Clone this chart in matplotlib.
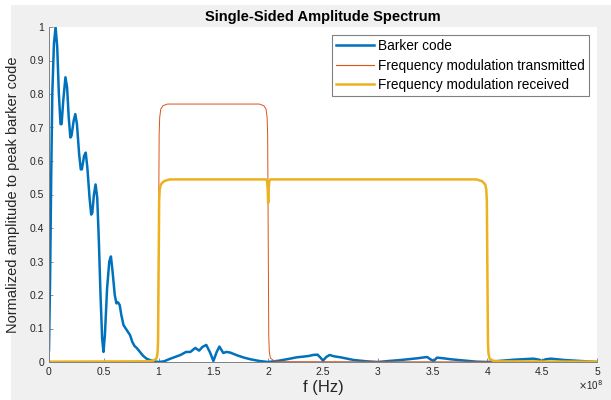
import numpy as np
import matplotlib.pyplot as plt
from matplotlib.patches import Rectangle

plt.rcParams['font.family'] = ['Liberation Sans', 'DejaVu Sans']

# frequency in units of 1e8 Hz
barker_f = [0.0, 0.01, 0.02, 0.03, 0.045, 0.06, 0.075, 0.09, 0.105, 0.115, 0.13, 0.15, 0.165, 0.18,
            0.195, 0.205, 0.225, 0.24, 0.255, 0.275, 0.29, 0.30, 0.32, 0.335, 0.35, 0.37, 0.385,
            0.395, 0.41, 0.425, 0.44, 0.455, 0.47, 0.485, 0.497, 0.51, 0.53, 0.55, 0.565, 0.58,
            0.60, 0.615, 0.63, 0.645, 0.66, 0.68, 0.70, 0.72, 0.74, 0.76, 0.78, 0.80, 0.83, 0.86,
            0.89, 0.92, 0.96, 1.0, 1.05, 1.1, 1.15, 1.2, 1.25, 1.29, 1.335, 1.37, 1.40, 1.435,
            1.47, 1.50, 1.53, 1.555, 1.59, 1.62, 1.655, 1.715, 1.78, 1.84, 1.92, 2.0, 2.1, 2.2,
            2.26, 2.32, 2.37, 2.41, 2.45, 2.48, 2.50, 2.53, 2.56, 2.6, 2.66, 2.78, 2.9, 3.0, 3.1,
            3.21, 3.36, 3.45, 3.48, 3.51, 3.54, 3.6, 3.67, 3.8, 3.9, 4.0, 4.1, 4.25, 4.42, 4.47,
            4.5, 4.53, 4.58, 4.7, 4.85, 5.0]
barker_v = [0.035, 0.25, 0.55, 0.80, 0.95, 1.0, 0.94, 0.80, 0.71, 0.71, 0.78, 0.85, 0.82, 0.73,
            0.67, 0.675, 0.72, 0.74, 0.71, 0.62, 0.575, 0.575, 0.615, 0.625, 0.58, 0.49, 0.44,
            0.445, 0.50, 0.53, 0.49, 0.36, 0.20, 0.07, 0.03, 0.08, 0.22, 0.30, 0.315, 0.27,
            0.20, 0.175, 0.178, 0.17, 0.14, 0.11, 0.10, 0.09, 0.08, 0.06, 0.048, 0.042, 0.03, 0.018,
            0.01, 0.006, 0.002, 0.0, 0.002, 0.009, 0.015, 0.021, 0.03, 0.03, 0.042, 0.034, 0.045, 0.051,
            0.028, 0.003, 0.03, 0.046, 0.027, 0.03, 0.028, 0.02, 0.013, 0.008, 0.003, 0.0, 0.004, 0.01,
            0.014, 0.016, 0.018, 0.021, 0.022, 0.012, 0.004, 0.015, 0.021, 0.017, 0.014, 0.006, 0.002, 0.0, 0.003,
            0.006, 0.011, 0.015, 0.008, 0.003, 0.013, 0.011, 0.008, 0.004, 0.001, 0.0, 0.003, 0.007, 0.01, 0.007,
            0.003, 0.008, 0.01, 0.006, 0.003, 0.0]

tx_f = [0.0, 0.95, 0.98, 0.99, 0.995, 1.0, 1.005, 1.01, 1.02, 1.04, 1.08, 1.92, 1.96, 1.98, 1.99,
        1.995, 2.0, 2.005, 2.01, 2.02, 2.05, 2.1, 5.0]
tx_v = [0.0, 0.002, 0.01, 0.03, 0.08, 0.38, 0.68, 0.73, 0.755, 0.765, 0.77, 0.77, 0.765, 0.755, 0.73,
        0.68, 0.38, 0.08, 0.03, 0.012, 0.004, 0.001, 0.0]

rx_f = [0.0, 0.9, 0.95, 0.98, 0.99, 0.995, 1.0, 1.005, 1.01, 1.02, 1.05, 1.1, 1.98, 1.99, 1.995,
        2.0, 2.005, 2.01, 2.02, 3.9, 3.95, 3.98, 3.99, 3.995, 4.0, 4.005, 4.01, 4.02, 4.05, 4.1, 5.0]
rx_v = [0.001, 0.002, 0.004, 0.01, 0.025, 0.06, 0.27, 0.48, 0.515, 0.53, 0.54, 0.545, 0.545, 0.54, 0.52,
        0.475, 0.52, 0.54, 0.545, 0.545, 0.54, 0.53, 0.515, 0.48, 0.27, 0.06, 0.025, 0.01, 0.004, 0.002, 0.001]

fig = plt.figure(figsize=(6.11, 4.0), dpi=100)
fig.patch.set_facecolor('white')
fig.patches.append(Rectangle((11 / 611, 0), 1, 1 - 5 / 400, transform=fig.transFigure,
                             facecolor='#f0f0f0', edgecolor='none', zorder=-10))

ax = fig.add_axes([49 / 611, 1 - 362 / 400, 548 / 611, 335 / 400])
ax.plot(np.array(barker_f) * 1e8, barker_v, color='#0072BD', lw=1.8, label='Barker code')
ax.plot(np.array(tx_f) * 1e8, tx_v, color='#D95319', lw=0.7, label='Frequency modulation transmitted')
ax.plot(np.array(rx_f) * 1e8, rx_v, color='#EDB120', lw=1.8, label='Frequency modulation received')

ax.set_xlim(0, 5e8)
ax.set_ylim(0, 1)
ax.set_xticks(np.arange(0, 5.01, 0.5) * 1e8)
ax.set_xticklabels(['0', '0.5', '1', '1.5', '2', '2.5', '3', '3.5', '4', '4.5', '5'])
ax.set_yticks(np.arange(0, 1.01, 0.1))
ax.set_yticklabels(['0', '0.1', '0.2', '0.3', '0.4', '0.5', '0.6', '0.7', '0.8', '0.9', '1'])
ax.tick_params(direction='in', length=3, width=0.6, colors='#808080', labelcolor='#262626', labelsize=7.5)
for s in ['top', 'right']:
    ax.spines[s].set_visible(False)
for s in ['left', 'bottom']:
    ax.spines[s].set_color('#808080')
    ax.spines[s].set_linewidth(0.7)

ax.set_title('Single-Sided Amplitude Spectrum', fontsize=10.5, fontweight='bold', pad=4)
ax.set_xlabel('f (Hz)', fontsize=12, color='#262626', labelpad=2)
ax.set_ylabel('Normalized amplitude to peak barker code', fontsize=10.5, color='#262626', labelpad=7)
fig.text(590 / 611, 1 - 385 / 400, r'$\times$10$^8$', fontsize=7, color='#262626', ha='center', va='center')

leg = ax.legend(loc='upper right', bbox_to_anchor=(1 - 8 / 548, 1 - 8 / 335), fontsize=9.8,
                fancybox=False, framealpha=1, edgecolor='#808080', borderpad=0.3,
                handlelength=2.8, handletextpad=0.3, labelspacing=0.4, borderaxespad=0)
leg.get_frame().set_linewidth(0.8)
for h in leg.get_lines():
    h.set_linewidth(1.8 if h.get_color() != '#D95319' else 0.8)

fig.savefig('out.png', dpi=100)
